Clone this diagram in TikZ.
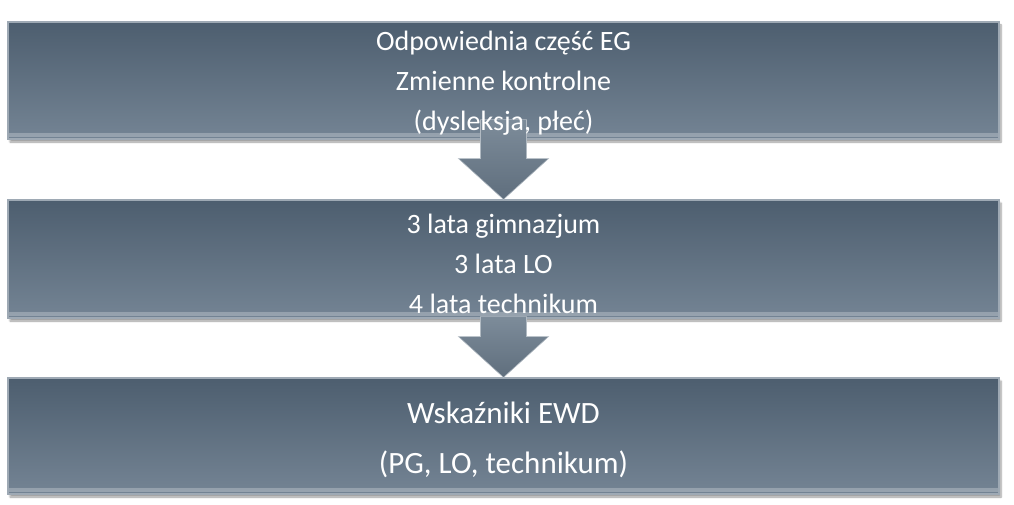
\documentclass[tikz,border=0pt]{standalone}
\usepackage{fontspec}
\setmainfont{Carlito}
\usetikzlibrary{calc,shadows.blur}

\definecolor{boxtop}{HTML}{4D5E6F}
\definecolor{boxbot}{HTML}{748494}
\definecolor{arrowtop}{HTML}{7D8C9A}
\definecolor{arrowbot}{HTML}{5F6E7D}

\begin{document}
\begin{tikzpicture}[x=1pt,y=-1pt]
    \tikzset{box/.style={rectangle, minimum width=991pt, inner sep=0pt,
        top color=boxtop, bottom color=boxbot, draw=boxbot!70!white, line width=1.2pt,
        path picture={\fill[white, opacity=0.25] ([yshift=2pt]path picture bounding box.south west)
          rectangle ([yshift=6pt]path picture bounding box.south east);},
        blur shadow={shadow xshift=2pt, shadow yshift=-3pt, shadow blur steps=6}}}
    \tikzset{boxtext/.style={text=white, align=center, font=\fontsize{28}{40}\selectfont}}
    \tikzset{bigtext/.style={text=white, align=center, font=\fontsize{31}{50}\selectfont}}
    \tikzset{downarrow/.style={top color=arrowtop, bottom color=arrowbot, draw=arrowtop!60!white, line width=0.6pt}}
    \useasboundingbox (0,0) rectangle (1014,505);
    % the three stages
    \node[box, minimum height=117pt] (b1) at (503.5,80.5) {};
    \node[box, minimum height=118pt] (b2) at (503.5,259) {};
    \node[box, minimum height=116pt] (b3) at (503.5,436) {};
    % arrows between the stages
    \draw[downarrow] ($(b1.south)+(-23,-20)$) -- ($(b1.south)+(23,-20)$)
      -- ($(b1.south)+(23,19)$) -- ($(b1.south)+(45,19)$) -- (b2.north)
      -- ($(b1.south)+(-45,19)$) -- ($(b1.south)+(-23,19)$) -- cycle;
    \draw[downarrow] ($(b2.south)+(-23,-2)$) -- ($(b2.south)+(23,-2)$)
      -- ($(b2.south)+(23,18)$) -- ($(b2.south)+(45,18)$) -- (b3.north)
      -- ($(b2.south)+(-45,18)$) -- ($(b2.south)+(-23,18)$) -- cycle;
    % texts
    \node[boxtext] (t1) at ([yshift=-3pt]b1.center) {Odpowiednia część EG\\Zmienne kontrolne\\(dysleksja, płeć)};
    \node[boxtext] (t2) at ([yshift=-5pt]b2.center) {3 lata gimnazjum\\3 lata LO\\4 lata technikum};
    \node[bigtext] (t3) at ([yshift=-4pt]b3.center) {Wskaźniki EWD\\(PG, LO, technikum)};
\end{tikzpicture}
\end{document}
